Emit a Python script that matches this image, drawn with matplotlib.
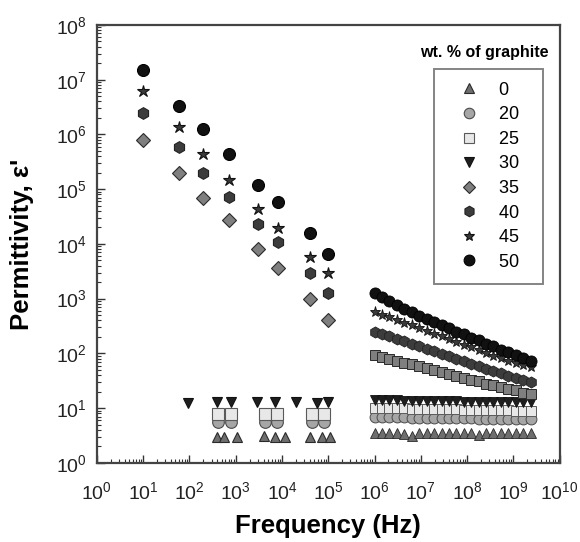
import matplotlib
matplotlib.use("Agg")
import matplotlib.pyplot as plt
from matplotlib.ticker import LogLocator, LogFormatterSciNotation, NullFormatter

plt.rcParams['font.family'] = ['Liberation Sans', 'DejaVu Sans']
plt.rcParams['mathtext.default'] = 'regular'

# low frequency measurements (Hz, permittivity)
f_hi_lo = [10, 60, 200, 700, 3000, 8000, 40000, 100000]
eps50_lo = [1.5e7, 3.3e6, 1.25e6, 4.4e5, 1.2e5, 5.8e4, 1.6e4, 6.5e3]
eps45_lo = [6.3e6, 1.35e6, 4.4e5, 1.5e5, 4.4e4, 1.95e4, 5.8e3, 2.9e3]
eps40_lo = [2.5e6, 6.0e5, 2.0e5, 7.2e4, 2.3e4, 1.07e4, 2.9e3, 1.25e3]
eps35_lo = [7.9e5, 1.95e5, 7.0e4, 2.7e4, 8.0e3, 3.7e3, 980, 410]

f30_lo = [95, 390, 800, 2950, 7100, 20000, 57000, 100000]
eps30_lo = [12.5, 13.0, 13.0, 13.2, 13.0, 13.0, 12.6, 13.0]
f25_lo = [420, 800, 4300, 7700, 44000, 82000]
eps25_lo = [7.8, 7.8, 7.9, 7.8, 7.8, 7.9]
eps20_lo = [5.6, 5.6, 5.6, 5.6, 5.6, 5.6]
f0_lo = [390, 570, 1050, 4000, 7100, 11700, 41000, 73000, 110000]
eps0_lo = [3.0, 3.0, 3.0, 3.1, 3.0, 3.0, 3.0, 3.0, 3.0]

# high frequency sweep
f_hf = [1.0e6, 1.45e6, 2.1e6, 3.0e6, 4.4e6, 6.4e6, 9.2e6, 1.33e7, 1.93e7, 2.8e7, 4.0e7,
        5.8e7, 8.4e7, 1.22e8, 1.77e8, 2.56e8, 3.7e8, 5.4e8, 7.8e8, 1.13e9, 1.63e9, 2.37e9]
eps50_hf = [1260, 1050, 890, 760, 645, 560, 490, 425, 370, 325, 290,
            250, 225, 195, 175, 150, 135, 117, 105, 93, 83, 74]
eps45_hf = [575, 510, 455, 405, 365, 325, 290, 255, 230, 205, 180,
            160, 145, 130, 115, 100, 91, 81, 74, 68, 62, 56]
eps40_hf = [250, 225, 205, 182, 166, 148, 135, 120, 110, 98, 89,
            79, 72, 65, 59, 52, 48, 43, 39, 35, 32, 29.5]
eps35_hf = [93, 85, 79, 72, 68, 63, 58, 54, 49, 46, 42,
            39, 36, 33, 31, 28, 26, 24, 22.4, 21, 19, 17.8]
eps30_hf = [14.0, 13.9, 13.8, 13.8, 13.7, 13.6, 13.6, 13.5, 13.5, 13.4, 13.3,
            13.3, 13.2, 13.2, 13.1, 13.0, 13.0, 12.9, 12.9, 12.8, 12.8, 12.7]
eps25_hf = [10.2, 10.1, 10.0, 10.0, 9.9, 9.8, 9.8, 9.7, 9.6, 9.6, 9.5,
            9.5, 9.4, 9.4, 9.3, 9.2, 9.2, 9.1, 9.1, 9.0, 9.0, 8.9]
eps20_hf = [6.9, 6.9, 6.8, 6.8, 6.8, 6.7, 6.7, 6.7, 6.6, 6.6, 6.6,
            6.5, 6.5, 6.5, 6.4, 6.4, 6.4, 6.3, 6.3, 6.3, 6.2, 6.2]
eps0_hf = [3.5, 3.5, 3.5, 3.5, 3.4, 3.1, 3.5, 3.5, 3.5, 3.5, 3.5,
           3.5, 3.5, 3.5, 3.2, 3.5, 3.5, 3.5, 3.5, 3.5, 3.5, 3.5]

labels = ['0', '20', '25', '30', '35', '40', '45', '50']

fig = plt.figure(figsize=(5.8, 5.42), dpi=100)
ax = fig.add_axes([0.167, 0.146, 0.798, 0.808])

edge = '#2a2a2a'
mw = 0.8

# low frequency points (these carry the legend)
h0, = ax.plot(f0_lo, eps0_lo, '^', ms=7.4, mfc='#6e6e6e', mec=edge, mew=mw, ls='none')
h20, = ax.plot(f25_lo, eps20_lo, 'o', ms=8.4, mfc='#a6a6a6', mec='#4a4a4a', mew=mw, ls='none')
h25, = ax.plot(f25_lo, eps25_lo, 's', ms=8.0, mfc='#e8e8e8', mec='#5a5a5a', mew=mw, ls='none')
h30, = ax.plot(f30_lo, eps30_lo, 'v', ms=7.8, mfc='#1e1e1e', mec='#111111', mew=mw, ls='none')
h35, = ax.plot(f_hi_lo, eps35_lo, 'D', ms=7.0, mfc='#7f7f7f', mec=edge, mew=mw, ls='none')
h40, = ax.plot(f_hi_lo, eps40_lo, 'h', ms=8.4, mfc='#3c3c3c', mec='#222222', mew=mw, ls='none')
h45, = ax.plot(f_hi_lo, eps45_lo, '*', ms=8.6, mfc='#3a3a3a', mec='#111111', mew=mw, ls='none')
h50, = ax.plot(f_hi_lo, eps50_lo, 'o', ms=8.6, mfc='#111111', mec='#000000', mew=mw, ls='none')

# high frequency sweep
ax.plot(f_hf, eps0_hf, '^', ms=7.2, mfc='#6e6e6e', mec=edge, mew=0.6, ls='none')
ax.plot(f_hf, eps20_hf, 'o', ms=7.8, mfc='#a6a6a6', mec='#4a4a4a', mew=0.7, ls='none')
ax.plot(f_hf, eps25_hf, 's', ms=7.2, mfc='#e8e8e8', mec='#5a5a5a', mew=0.7, ls='none')
ax.plot(f_hf, eps30_hf, 'v', ms=7.4, mfc='#1e1e1e', mec='#111111', mew=0.6, ls='none')
ax.plot(f_hf, eps35_hf, 's', ms=7.2, mfc='#7f7f7f', mec=edge, mew=0.7, ls='none')
ax.plot(f_hf, eps40_hf, 'h', ms=8.0, mfc='#3c3c3c', mec='#222222', mew=0.6, ls='none')
ax.plot(f_hf, eps45_hf, '*', ms=8.0, mfc='#3a3a3a', mec='#111111', mew=0.6, ls='none')
ax.plot(f_hf, eps50_hf, 'o', ms=8.0, mfc='#111111', mec='#000000', mew=0.6, ls='none')

ax.set_xscale('log')
ax.set_yscale('log')
ax.set_xlim(1, 1e10)
ax.set_ylim(1, 1e8)

ax.xaxis.set_major_locator(LogLocator(base=10, numticks=12))
ax.yaxis.set_major_locator(LogLocator(base=10, numticks=12))
ax.xaxis.set_minor_locator(LogLocator(base=10, subs=range(2, 10), numticks=12))
ax.yaxis.set_minor_locator(LogLocator(base=10, subs=range(2, 10), numticks=12))
ax.xaxis.set_major_formatter(LogFormatterSciNotation())
ax.yaxis.set_major_formatter(LogFormatterSciNotation())
ax.xaxis.set_minor_formatter(NullFormatter())
ax.yaxis.set_minor_formatter(NullFormatter())

ax.tick_params(which='both', direction='in', top=False, right=False, color='#333333')
ax.tick_params(which='major', length=6, width=1.0, labelsize=14, labelcolor='#222222')
ax.tick_params(axis='x', which='major', pad=13)
ax.tick_params(axis='y', which='major', pad=7)
ax.tick_params(which='minor', length=3, width=0.8)
for sp in ax.spines.values():
    sp.set_linewidth(1.6)
    sp.set_color('#444444')

ax.set_xlabel('Frequency (Hz)', fontsize=18.5, fontweight='bold', labelpad=8)
ax.set_ylabel("Permittivity, ε'", fontsize=18.5, fontweight='bold', labelpad=16)

# trailing spaces widen the box on the right like the original
leg = ax.legend([h0, h20, h25, h30, h35, h40, h45, h50], [s + '  ' for s in labels],
                loc='upper right', bbox_to_anchor=(0.963, 0.90), fontsize=13,
                frameon=True, fancybox=False, edgecolor='#666666',
                labelspacing=0.42, handlelength=2.4, handletextpad=0.5,
                borderpad=0.72, borderaxespad=0, markerscale=0.9)
leg.get_frame().set_linewidth(1.4)
ax.text(0.838, 0.936, 'wt. % of graphite', transform=ax.transAxes, fontsize=11.5,
        fontweight='bold', ha='center', va='center')

fig.savefig('out.png', dpi=100)
